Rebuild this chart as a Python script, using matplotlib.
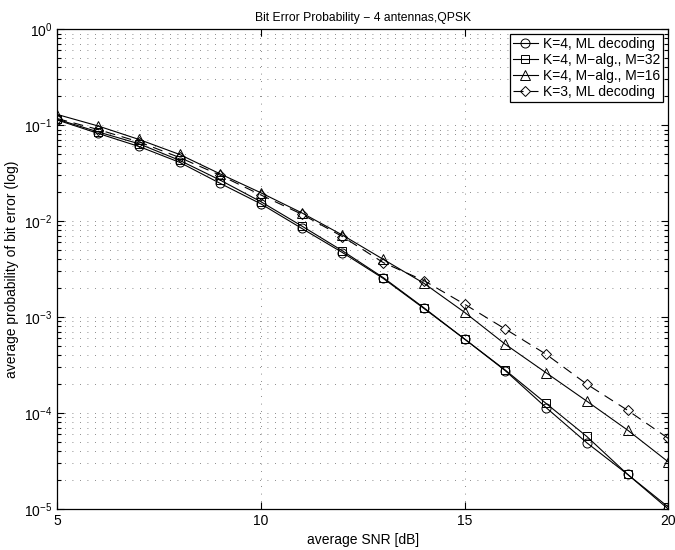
import numpy as np
import matplotlib
matplotlib.use('Agg')
import matplotlib.pyplot as plt
from matplotlib.ticker import LogLocator, NullFormatter, FixedLocator

plt.rcParams['font.family'] = ['Liberation Sans', 'DejaVu Sans']
plt.rcParams['mathtext.fontset'] = 'custom'
plt.rcParams['mathtext.rm'] = 'Liberation Sans'
plt.rcParams['mathtext.it'] = 'Liberation Sans:italic'

# average SNR [dB]
snr = [5, 6, 7, 8, 9, 10, 11, 12, 13, 14, 15, 16, 17, 18, 19, 20]

# bit error probability
k4_ml = [0.113, 0.082, 0.060, 0.041, 0.0247, 0.0151, 0.0084, 0.0047,
         0.00253, 0.00123, 5.9e-4, 2.76e-4, 1.14e-4, 4.9e-5, 2.3e-5, 1.0e-5]
k4_m32 = [0.115, 0.085, 0.064, 0.043, 0.0267, 0.0159, 0.0089, 0.0049,
          0.00258, 0.00125, 5.9e-4, 2.8e-4, 1.26e-4, 5.7e-5, 2.3e-5, 1.05e-5]
k4_m16 = [0.129, 0.098, 0.071, 0.0495, 0.031, 0.0197, 0.0122, 0.00715,
          0.0040, 0.00225, 1.12e-3, 5.2e-4, 2.63e-4, 1.33e-4, 6.65e-5, 3.1e-5]
k3_ml = [0.117, 0.090, 0.067, 0.046, 0.030, 0.0187, 0.0118, 0.0069,
         0.0037, 0.0024, 1.36e-3, 7.5e-4, 4.1e-4, 2.0e-4, 1.07e-4, 5.45e-5]

series = [
    (k4_ml, 'o', '-', 'K=4, ML decoding'),
    (k4_m32, 's', '-', 'K=4, M\u2212alg., M=32'),
    (k4_m16, '^', '-', 'K=4, M\u2212alg., M=16'),
    (k3_ml, 'D', '--', 'K=3, ML decoding'),
]
marker_size = {'o': 6.5, 's': 5.5, '^': 6.5, 'D': 5.5}

fig = plt.figure(figsize=(6.75, 5.5), dpi=100)
ax = fig.add_axes([0.085, 0.0745, 0.905, 0.8725])

for vals, mk, ls, lab in series:
    ax.semilogy(snr, vals, color='black', linestyle=ls, linewidth=0.8,
                marker=mk, markersize=marker_size[mk],
                markerfacecolor='none', markeredgecolor='black',
                markeredgewidth=0.7, label=lab,
                dashes=(9, 6) if ls == '--' else (None, None))

ax.set_xlim(5, 20)
ax.set_ylim(1e-5, 1)
ax.xaxis.set_major_locator(FixedLocator([5, 10, 15, 20]))
ax.yaxis.set_major_locator(LogLocator(base=10, numticks=10))
ax.yaxis.set_minor_locator(LogLocator(base=10, subs=np.arange(2, 10), numticks=10))
ax.yaxis.set_minor_formatter(NullFormatter())

grid_style = dict(color='#666666', linestyle=(0, (1, 8)), linewidth=0.6)
ax.grid(True, which='major', axis='both', **grid_style)
ax.grid(True, which='minor', axis='y', **grid_style)

ax.tick_params(which='both', direction='in', top=True, right=True,
               labelsize=10, width=0.8)
ax.tick_params(which='major', length=5)
ax.tick_params(which='minor', length=3)
for sp in ax.spines.values():
    sp.set_linewidth(0.9)

ax.set_title('Bit Error Probability \u2212 4 antennas,QPSK', fontsize=8.7)
ax.set_xlabel('average SNR [dB]', fontsize=10)
ax.set_ylabel('average probability of bit error (log)', fontsize=10)

leg = ax.legend(loc='upper right', fontsize=10, frameon=True, fancybox=False,
                edgecolor='black', framealpha=1, borderpad=0.2,
                labelspacing=0.15, handlelength=1.8, handletextpad=0.4,
                borderaxespad=0.35)
leg.get_frame().set_linewidth(0.9)

fig.savefig('out.png', dpi=100)
